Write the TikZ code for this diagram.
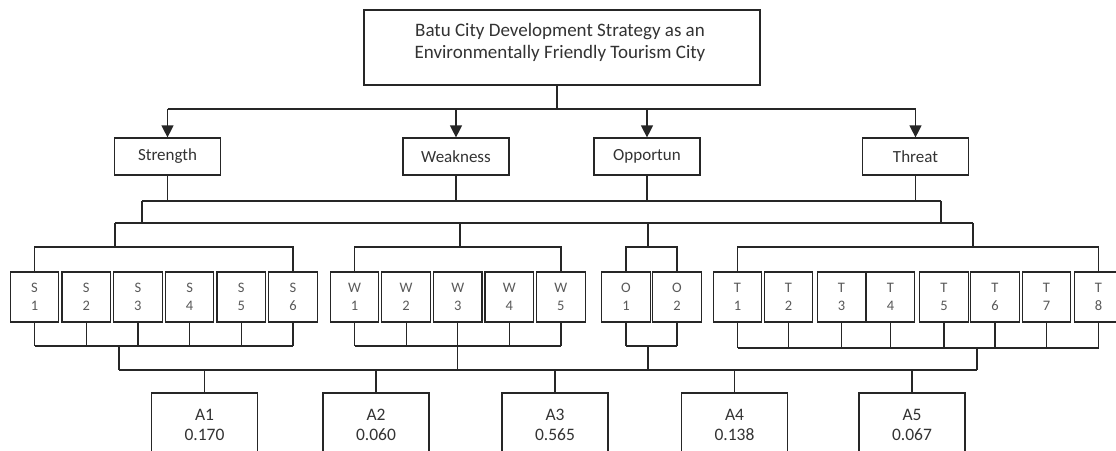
\documentclass[tikz,border=0pt]{standalone}
\usepackage{fontspec}
\setmainfont{Carlito}
\usetikzlibrary{arrows.meta}
\begin{document}
\begin{tikzpicture}[x=1pt,y=-1pt,
  line/.style={line width=1.2pt, black!85},
  arr/.style={line, -{Triangle[length=12pt,width=12pt]}},
  bx/.style={draw=black!85, line width=1.2pt, inner sep=0pt, text=black!80},
  topbox/.style={bx, minimum width=396pt, minimum height=75pt},
  catbox/.style={bx, minimum width=106pt, minimum height=37pt, font=\fontsize{17}{19}\selectfont},
  itembox/.style={bx, minimum width=48.5pt, minimum height=50pt, align=center, text=black!65, font=\fontsize{14.5}{18}\selectfont},
  altbox/.style={bx, minimum width=106pt, minimum height=64pt, align=center, font=\fontsize{17.5}{20}\selectfont}
]
\clip (0,0) rectangle (1116,450);
\fill[white] (0,0) rectangle (1116,450);

% top
\node[topbox] (top) at (562,47.5) {};
\node[align=center, text=black!80, font=\fontsize{19}{21.5}\selectfont] (toptext) at (560,42.5)
  {Batu City Development Strategy as an\\Environmentally Friendly Tourism City};

% categories
\node[catbox] (Str) at (167.5,156.5) {Strength};
\node[catbox] (Wea) at (456,156.5) {Weakness};
\node[catbox] (Opp) at (647,156.5) {Opportun};
\node[catbox] (Thr) at (915.5,156.5) {Threat};

% items
\foreach \i/\x in {1/34.5,2/86.2,3/137.9,4/189.6,5/241.3,6/293}
  \node[itembox] (S\i) at (\x,297) {S\\\i};
\foreach \i/\x in {1/354.5,2/406.1,3/457.7,4/509.3,5/560.9}
  \node[itembox] (W\i) at (\x,297) {W\\\i};
\foreach \i/\x in {1/626,2/677}
  \node[itembox] (O\i) at (\x,297) {O\\\i};
\foreach \i/\x in {1/737.5,2/788.5,3/841.5,4/890.5,5/944,6/995,7/1046.5,8/1098.5}
  \node[itembox] (T\i) at (\x,297) {T\\\i};

% alternatives
\node[altbox] (A1) at (204.5,425) {A1\\0.170};
\node[altbox] (A2) at (376,425) {A2\\0.060};
\node[altbox] (A3) at (555,425) {A3\\0.565};
\node[altbox] (A4) at (734.5,425) {A4\\0.138};
\node[altbox] (A5) at (912,425) {A5\\0.067};

% top to categories
\coordinate (b0) at (557,109);
\draw[line] (top.south -| b0) -- (b0);
\draw[line] (Str.north |- b0) -- (Thr.north |- b0);
\foreach \n in {Str,Wea,Opp,Thr} \draw[arr] (\n.north |- b0) -- (\n.north);

% categories down to bracket buses
\coordinate (b1L) at (142,201);
\coordinate (b1R) at (941,201);
\foreach \n in {Str,Wea,Opp,Thr} \draw[line] (\n.south) -- (\n.south |- b1L);
\draw[line] (b1L) -- (b1R);
\coordinate (b2L) at (115,223);
\coordinate (b2R) at (973,223);
\draw[line] (b1L) -- (b1L |- b2L);
\draw[line] (b1R) -- (b1R |- b2L);
\draw[line] (b2L) -- (b2R);

% group drops
\coordinate (gS) at (115,247);
\coordinate (gW) at (460,247);
\coordinate (gO) at (648,247);
\coordinate (gT) at (973,247);
\foreach \g in {gS,gW,gO,gT} \draw[line] (\g |- b2L) -- (\g);

% group buses
\draw[line] (S1.north) -- (S1.north |- gS) -- (S6.north |- gS) -- (S6.north);
\draw[line] (W1.north) -- (W1.north |- gW) -- (W5.north |- gW) -- (W5.north);
\draw[line] (O1.north) -- (O1.north |- gO) -- (O2.north |- gO) -- (O2.north);
\draw[line] (T1.north) -- (T1.north |- gT) -- (T8.north |- gT) -- (T8.north);

% lower buses
\coordinate (lS) at (119,346);
\coordinate (lW) at (457.7,346);
\coordinate (lO) at (648,346);
\coordinate (lT) at (977,348);
\coordinate (bb) at (0,370);
\foreach \i in {1,...,6} \draw[line] (S\i.south) -- (S\i.south |- lS);
\draw[line] (S1.south |- lS) -- (S6.south |- lS);
\foreach \i in {1,...,5} \draw[line] (W\i.south) -- (W\i.south |- lW);
\draw[line] (W1.south |- lW) -- (W5.south |- lW);
\foreach \i in {1,2} \draw[line] (O\i.south) -- (O\i.south |- lO);
\draw[line] (O1.south |- lO) -- (O2.south |- lO);
\foreach \i in {1,...,8} \draw[line] (T\i.south) -- (T\i.south |- lT);
\draw[line] (T1.south |- lT) -- (T8.south |- lT);
\foreach \c in {lS,lW,lO,lT} \draw[line] (\c) -- (\c |- bb);
\draw[line] (lS |- bb) -- (lT |- bb);
\foreach \i in {1,...,5} \draw[line] (A\i.north |- bb) -- (A\i.north);
\end{tikzpicture}
\end{document}
